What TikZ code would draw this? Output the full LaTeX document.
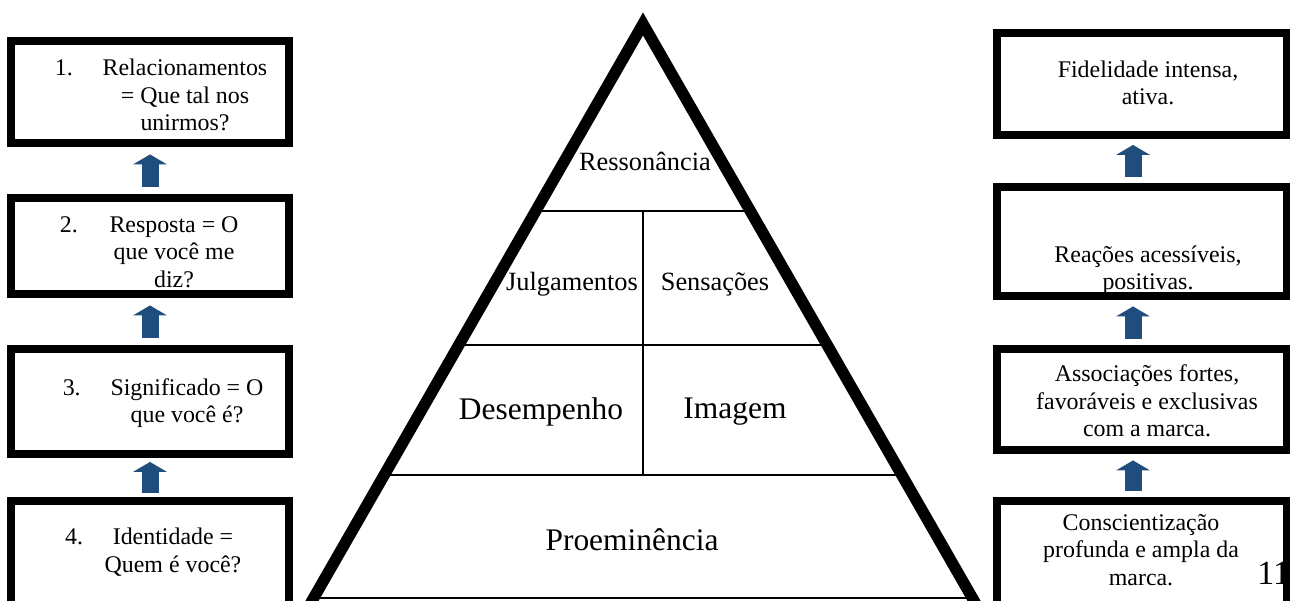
\documentclass[tikz,border=0pt]{standalone}
\usepackage{fontspec}
\setmainfont{Liberation Serif}
\usetikzlibrary{calc,positioning,arrows.meta}
\definecolor{arrowblue}{RGB}{31,77,125}
\tikzset{
  x=0.02cm, y=-0.02cm,
  levelbox/.style={draw, line width=4.5pt, inner sep=0pt},
  boxtext/.style={align=center, inner sep=0pt, font=\fontsize{13.6}{15.6}\selectfont},
  pyrtext/.style={inner sep=0pt, font=\fontsize{15}{18}\selectfont},
  bigtext/.style={inner sep=0pt, font=\fontsize{17.9}{21}\selectfont},
  thinline/.style={line width=1.1pt},
  pyramid/.style={line width=6.5pt, line join=miter},
  blockarrow/.style={draw=arrowblue, line width=0.34cm,
    -{Triangle[width=0.68cm,length=0.2cm,line width=0pt]}},
}

\begin{document}
\begin{tikzpicture}
\useasboundingbox (0,0) rectangle (1290,601);

% page number
\node[anchor=base west, inner sep=0pt, font=\fontsize{19.3}{22}\selectfont] (pg) at (1257,584) {11};

% Left column
\node[levelbox, minimum width=5.56cm, minimum height=2.04cm] (l1) at (150,92) {};
\node[levelbox, minimum width=5.56cm, minimum height=1.92cm] (l2) at (150,246) {};
\node[levelbox, minimum width=5.56cm, minimum height=2.1cm] (l3) at (150,401.5) {};
\node[levelbox, minimum width=5.56cm, minimum height=2.1cm] (l4) at (150,553.5) {};

\node[boxtext] (lt1) at (185,95) {\llap{1.\hspace{17pt}}Relacionamentos\\= Que tal nos\\unirmos?};
\node[boxtext] (lt2) at (174,252) {\llap{2.\hspace{18pt}}Resposta = O\\que você me\\diz?};
\node[boxtext] (lt3) at (187,403) {\llap{3.\hspace{17pt}}Significado = O\\que você é?};
\node[boxtext] (lt4) at (173,552) {\llap{4.\hspace{17pt}}Identidade =\\Quem é você?};

% Right column
\node[levelbox, minimum width=5.8cm, minimum height=2.04cm] (r1) at (1142,84) {};
\node[levelbox, minimum width=5.8cm, minimum height=2.18cm] (r2) at (1142,241.5) {};
\node[levelbox, minimum width=5.8cm, minimum height=2.02cm] (r3) at (1142,399.5) {};
\node[levelbox, minimum width=5.8cm, minimum height=2.1cm] (r4) at (1142,553.5) {};

\node[boxtext] (rt1) at (1148,83) {Fidelidade intensa,\\ativa.};
\node[boxtext] (rt2) at (1148,270) {Reações acessíveis,\\positivas.};
\node[boxtext] (rt3) at (1147,401) {Associações fortes,\\favoráveis e exclusivas\\com a marca.};
\node[boxtext] (rt4) at (1141,550) {Conscientização\\profunda e ampla da\\marca.};

% Arrows
\foreach \a/\b/\s in {l2/l1/0.15cm, l3/l2/0.15cm, l4/l3/0.08cm} {
  \draw[blockarrow, shorten <=\s, shorten >=\s] (\a) -- (\b);
}
\foreach \a/\b/\s in {r2/r1/0.12cm, r3/r2/0.13cm, r4/r3/0.13cm} {
  \draw[blockarrow, shorten <=\s, shorten >=\s] ([xshift=-0.18cm]\a.north) -- ([xshift=-0.18cm]\b.south);
}

% Pyramid
\coordinate (apex) at (643,24);
\coordinate (pbl) at (301,620);
\coordinate (pbr) at (985,620);
\foreach \t [count=\i] in {0.3138,0.5386,0.7567,0.9631} {
  \coordinate (a\i) at ($(apex)!\t!(pbl)$);
  \coordinate (b\i) at ($(apex)!\t!(pbr)$);
  \draw[thinline] (a\i) -- (b\i);
}
\draw[thinline] (apex |- a1) -- (apex |- a3);
\draw[pyramid] (pbl) -- (apex) -- (pbr);

\node[pyrtext] (res) at (645,161) {Ressonância};
\node[pyrtext] (jul) at (572,284) {Julgamentos};
\node[pyrtext] (sen) at (715,284) {Sensações};
\node[bigtext] (des) at (541,412) {Desempenho};
\node[bigtext] (ima) at (735,412) {Imagem};
\node[bigtext] (pro) at (632,540) {Proeminência};
\end{tikzpicture}
\end{document}
